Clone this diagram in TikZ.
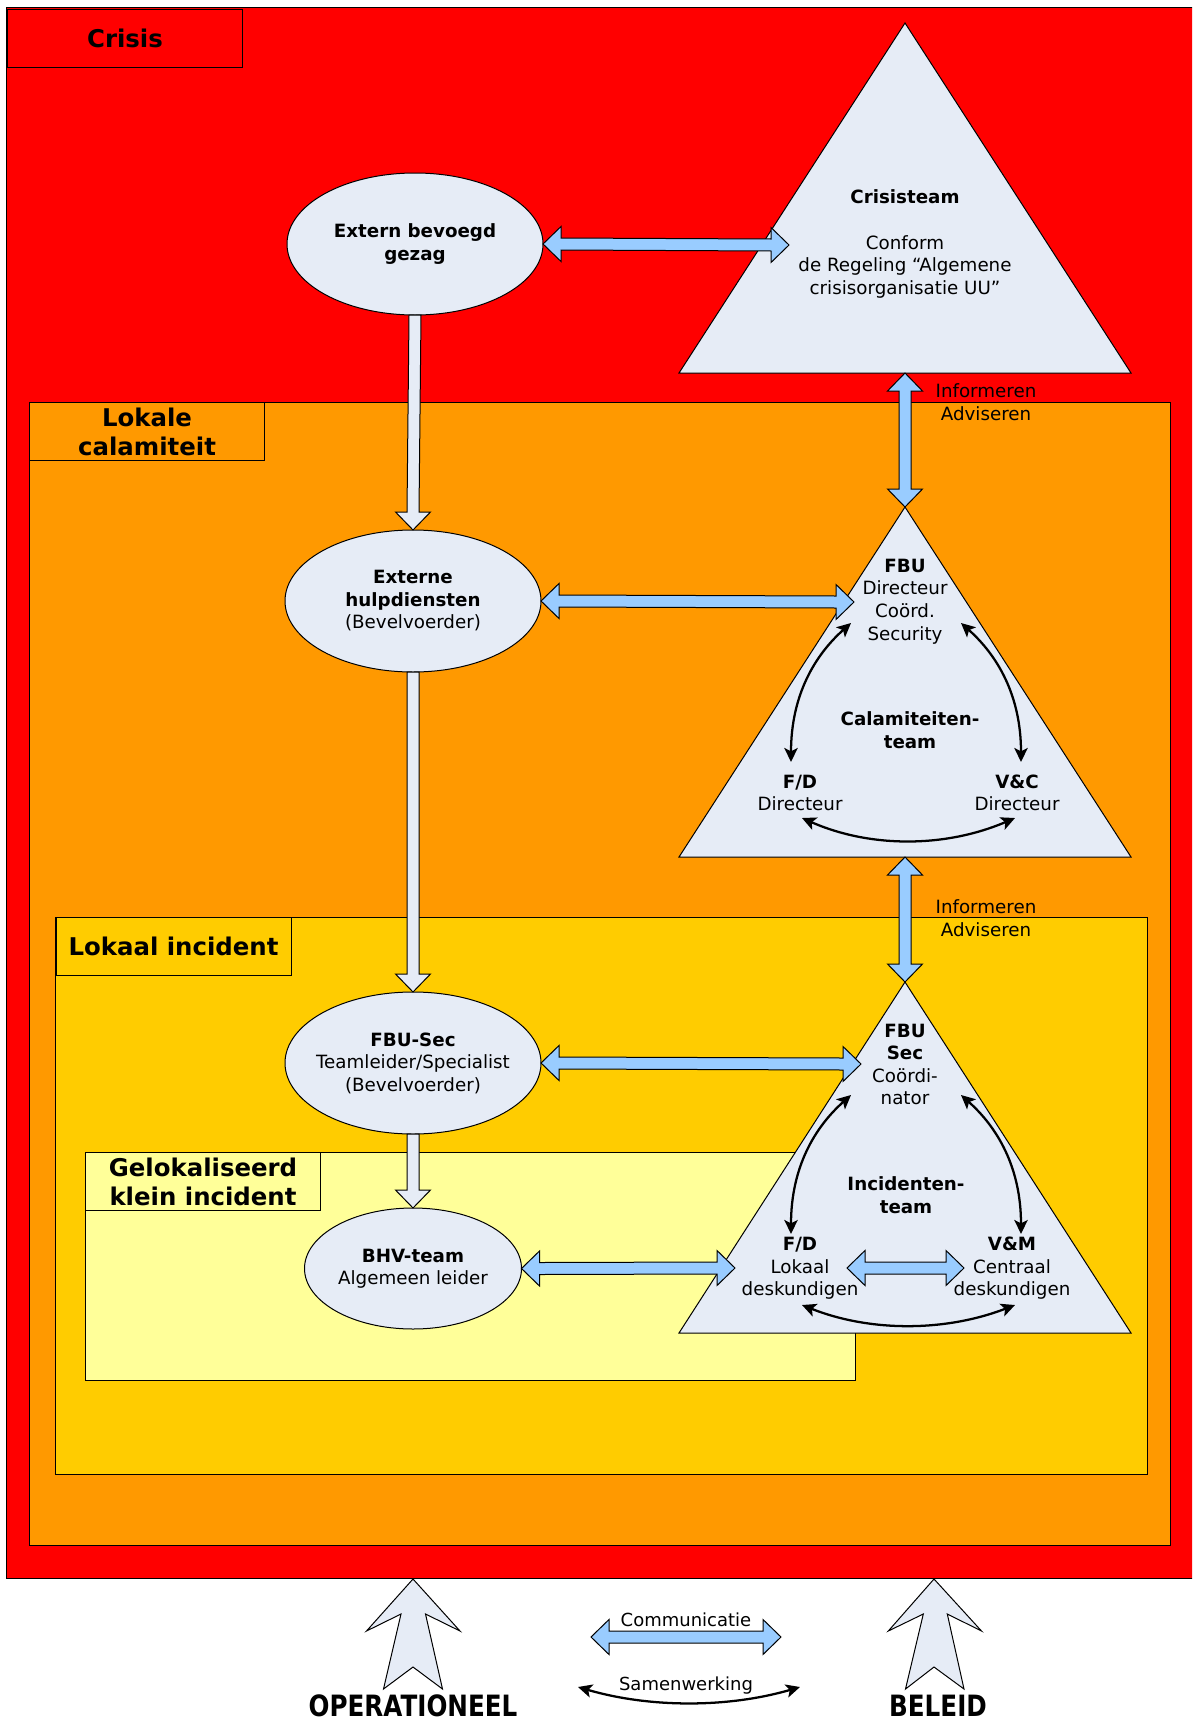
\documentclass[tikz,border=0pt]{standalone}
\usepackage{fontspec}
\setmainfont{DejaVu Sans}
\newfontfamily\condfont[FakeStretch=0.84]{DejaVu Sans}
\usetikzlibrary{shapes.geometric,calc,arrows.meta}

\definecolor{crisisred}{RGB}{255,0,0}
\definecolor{calorange}{RGB}{255,153,0}
\definecolor{incyellow}{RGB}{255,204,0}
\definecolor{smallyellow}{RGB}{255,255,153}
\definecolor{shapefill}{RGB}{230,236,246}
\definecolor{commblue}{RGB}{153,204,255}

\tikzset{every picture/.style={line width=0.75pt}}
\tikzset{
  regionlbl/.style={draw, anchor=north west, minimum width=176.25pt, minimum height=43.5pt, inner sep=0pt, align=center, font=\fontsize{18.3}{21.75}\selectfont\bfseries},
  ell/.style={ellipse, draw, fill=shapefill, inner sep=0pt, outer sep=0pt, minimum width=192pt, minimum height=106.5pt},
  txt/.style={inner sep=0pt, align=center, font=\fontsize{13.7}{16.9}\selectfont},
  tri/.style={draw, fill=shapefill},
  commarrow/.style={draw, fill=commblue},
  flowarrow/.style={draw, fill=shapefill},
  samen/.style={line width=1.7pt, {Stealth[length=10.5pt,width=10pt,inset=2.5pt]}-{Stealth[length=10.5pt,width=10pt,inset=2.5pt]}},
  hdbl/.style={to path={-- ($(\tikztostart)+(18,-17.5)$) -- ($(\tikztostart)+(18,-6)$) -- ($(\tikztotarget)+(-18,-6)$) -- ($(\tikztotarget)+(-18,-17.5)$) -- (\tikztotarget) -- ($(\tikztotarget)+(-18,17.5)$) -- ($(\tikztotarget)+(-18,6)$) -- ($(\tikztostart)+(18,6)$) -- ($(\tikztostart)+(18,17.5)$) -- cycle}},
  vdbl/.style={to path={-- ($(\tikztostart)+(17.5,18)$) -- ($(\tikztostart)+(6,18)$) -- ($(\tikztotarget)+(6,-18)$) -- ($(\tikztotarget)+(17.5,-18)$) -- (\tikztotarget) -- ($(\tikztotarget)+(-17.5,-18)$) -- ($(\tikztotarget)+(-6,-18)$) -- ($(\tikztostart)+(-6,18)$) -- ($(\tikztostart)+(-17.5,18)$) -- cycle}},
  vone/.style={to path={-- ($(\tikztostart)+(6,0)$) -- ($(\tikztotarget)+(6,-18)$) -- ($(\tikztotarget)+(17.5,-18)$) -- (\tikztotarget) -- ($(\tikztotarget)+(-17.5,-18)$) -- ($(\tikztotarget)+(-6,-18)$) -- ($(\tikztostart)+(-6,0)$) -- cycle}}
}

\begin{document}
\begin{tikzpicture}[x=0.75pt,y=0.75pt,yscale=-1,xscale=1]
\clip (0,0) rectangle (1192,1720);

%Shape: Rectangle [id:dp_crisis]
\draw [fill=crisisred] (6,8) rectangle (1200,1578) ;
% Text Node
\draw (7,9) node [regionlbl] (lbl-crisis) {Crisis};
%Shape: Rectangle [id:dp_calamiteit]
\draw [fill=calorange] (29,402) rectangle (1170,1545) ;
% Text Node
\draw (29,402) node [regionlbl] (lbl-cal) {Lokale\\calamiteit};
%Shape: Rectangle [id:dp_incident]
\draw [fill=incyellow] (55.5,917) rectangle (1147,1474) ;
% Text Node
\draw (55.5,917) node [regionlbl] (lbl-inc) {Lokaal incident};
%Shape: Rectangle [id:dp_klein]
\draw [fill=smallyellow] (85,1152) rectangle (855,1380) ;
% Text Node
\draw (85,1152) node [regionlbl] (lbl-small) {Gelokaliseerd\\klein incident};

%Shape: Ellipse [id:dp_gezag]
\draw (415,244) node [ell] (ext-gezag) {};
% Text Node
\draw (ext-gezag.center) node [txt] (ext-gezag-txt) {\textbf{Extern bevoegd}\\\textbf{gezag}};
%Shape: Ellipse [id:dp_hulp]
\draw (413,601) node [ell] (ext-hulp) {};
% Text Node
\draw (ext-hulp.center) node [txt] (ext-hulp-txt) {\textbf{Externe}\\\textbf{hulpdiensten}\\(Bevelvoerder)};
%Shape: Ellipse [id:dp_fbusec]
\draw (413,1063) node [ell] (fbu-sec) {};
% Text Node
\draw (fbu-sec.center) node [txt] (fbu-sec-txt) {\textbf{FBU-Sec}\\Teamleider/Specialist\\(Bevelvoerder)};
%Shape: Ellipse [id:dp_bhv]
\draw (413,1268.5) node [ell, minimum width=162.75pt, minimum height=90.75pt] (bhv) {};
% Text Node
\draw (bhv.center) node [txt] (bhv-txt) {\textbf{BHV-team}\\Algemeen leider};

%Shape: Triangle [id:dp_crisisteam]
\coordinate (ct-top) at (905,23) ;
\coordinate (ct-bl) at (679,373) ;
\coordinate (ct-br) at (1131,373) ;
\coordinate (ct-base) at (905,373) ;
\coordinate (ct-in) at (789,245) ;
\draw [tri] (ct-top) -- (ct-br) -- (ct-bl) -- cycle ;
% Text Node
\draw (905,244) node [txt] (crisisteam) {\textbf{Crisisteam}\\[16.9pt]Conform\\de Regeling “Algemene\\crisisorganisatie UU”};

%Shape: Triangle [id:dp_calteam]
\coordinate (cal-top) at (905,507) ;
\coordinate (cal-bl) at (679,857) ;
\coordinate (cal-br) at (1131,857) ;
\coordinate (cal-base) at (905,857) ;
\coordinate (cal-in) at (854,602) ;
\draw [tri] (cal-top) -- (cal-br) -- (cal-bl) -- cycle ;
% Text Node
\draw (905,601.5) node [txt] (cal-fbu) {\textbf{FBU}\\Directeur\\Coörd.\\Security};
% Text Node
\draw (910,730) node [txt] (cal-team) {\textbf{Calamiteiten-}\\\textbf{team}};
% Text Node
\draw (800,793) node [txt] (cal-fd) {\textbf{F/D}\\Directeur};
% Text Node
\draw (1017,793) node [txt] (cal-vc) {\textbf{V\&C}\\Directeur};

%Shape: Triangle [id:dp_incteam]
\coordinate (inc-top) at (905,982) ;
\coordinate (inc-bl) at (679,1333) ;
\coordinate (inc-br) at (1131,1333) ;
\coordinate (inc-in) at (861,1064) ;
\coordinate (inc-in2) at (735,1268) ;
\draw [tri] (inc-top) -- (inc-br) -- (inc-bl) -- cycle ;
% Text Node
\draw (905,1064.5) node [txt] (inc-fbu) {\textbf{FBU}\\\textbf{Sec}\\Coördi-\\nator};
% Text Node
\draw (906,1195) node [txt] (inc-team) {\textbf{Incidenten-}\\\textbf{team}};
% Text Node
\draw (800,1268.5) node [txt] (inc-fd) {\textbf{F/D}\\Lokaal\\deskundigen};
% Text Node
\draw (1012,1268.5) node [txt] (inc-vm) {\textbf{V\&M}\\Centraal\\deskundigen};

% Text Node
\draw (986,402) node [txt] (info-1) {Informeren\\Adviseren};
% Text Node
\draw (986,918) node [txt] (info-2) {Informeren\\Adviseren};

%Block Arrows (communicatie)
\draw [commarrow] (ext-gezag.east) to[hdbl] (ct-in) ;
\draw [commarrow] (ext-hulp.east) to[hdbl] (cal-in) ;
\draw [commarrow] (fbu-sec.east) to[hdbl] (inc-in) ;
\draw [commarrow] (bhv.east) to[hdbl] (inc-in2) ;
\draw [commarrow] (ct-base) to[vdbl] (cal-top) ;
\draw [commarrow] (cal-base) to[vdbl] (inc-top) ;
\coordinate (inc-l) at (847,1268) ;
\coordinate (inc-r) at (964,1268) ;
\draw [commarrow] (inc-l) to[hdbl] (inc-r) ;

%Block Arrows (operationeel)
\draw [flowarrow] (ext-gezag.south) to[vone] (ext-hulp.north) ;
\draw [flowarrow] (ext-hulp.south) to[vone] (fbu-sec.north) ;
\draw [flowarrow] (fbu-sec.south) to[vone] (bhv.north) ;

%Curve Lines (samenwerking)
\coordinate (cal-a1) at (851,623) ; \coordinate (cal-a2) at (791,762) ;
\coordinate (cal-a3) at (961,623) ; \coordinate (cal-a4) at (1021,762) ;
\coordinate (cal-a5) at (802,818) ; \coordinate (cal-a6) at (1015,818) ;
\draw [samen] (cal-a1) .. controls (815,655) and (791,695) .. (cal-a2) ;
\draw [samen] (cal-a3) .. controls (997,655) and (1021,695) .. (cal-a4) ;
\draw [samen] (cal-a5) .. controls (870,848) and (945,848) .. (cal-a6) ;
\coordinate (inc-a1) at (851,1095) ; \coordinate (inc-a2) at (791,1234) ;
\coordinate (inc-a3) at (961,1095) ; \coordinate (inc-a4) at (1021,1234) ;
\coordinate (inc-a5) at (802,1305) ; \coordinate (inc-a6) at (1015,1305) ;
\draw [samen] (inc-a1) .. controls (815,1127) and (791,1167) .. (inc-a2) ;
\draw [samen] (inc-a3) .. controls (997,1127) and (1021,1167) .. (inc-a4) ;
\draw [samen] (inc-a5) .. controls (870,1332) and (945,1332) .. (inc-a6) ;

%Shape: Up Arrow [id:dp_operationeel]
\draw [flowarrow] (413,1579) -- (460,1631) -- (425.5,1614) -- (442.5,1689) -- (413,1667) -- (383.5,1689) -- (401,1614) -- (366.5,1631) -- cycle ;
% Text Node
\draw (413,1716) node [anchor=base, inner sep=0pt, font=\condfont\fontsize{22}{27}\selectfont\bfseries] (lbl-oper) {OPERATIONEEL};
%Shape: Up Arrow [id:dp_beleid]
\draw [flowarrow] (934,1579) -- (981.5,1631) -- (947.3,1614) -- (964,1689) -- (934,1667) -- (905.5,1689) -- (923.3,1614) -- (888.3,1631) -- cycle ;
% Text Node
\draw (938,1716) node [anchor=base, inner sep=0pt, font=\condfont\fontsize{22}{27}\selectfont\bfseries] (lbl-beleid) {BELEID};

%Legend
\coordinate (leg-c1) at (591,1637) ;
\coordinate (leg-c2) at (781,1637) ;
\draw [commarrow] (leg-c1) to[hdbl] (leg-c2) ;
% Text Node
\draw (686,1626) node [anchor=base, inner sep=0pt, font=\fontsize{13.5}{16}\selectfont] (leg-comm) {Communicatie};
\coordinate (leg-s1) at (578,1687) ;
\coordinate (leg-s2) at (800,1687) ;
\draw [samen] (leg-s1) .. controls (650,1708) and (728,1708) .. (leg-s2) ;
% Text Node
\draw (686,1690) node [anchor=base, inner sep=0pt, font=\fontsize{13.5}{16}\selectfont] (leg-samen) {Samenwerking};

\end{tikzpicture}
\end{document}
